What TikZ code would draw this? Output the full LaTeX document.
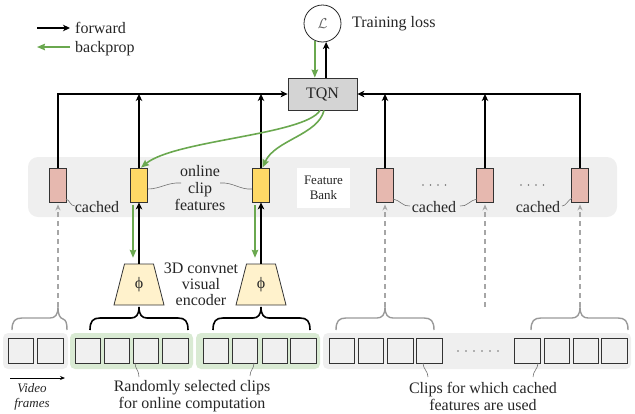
\documentclass[tikz,border=0pt]{standalone}
\usepackage{fontspec}
\setmainfont{Liberation Serif}
\usetikzlibrary{arrows.meta,calc}
\definecolor{bgreen}{HTML}{6AA84F}
\definecolor{greenbg}{HTML}{D9EAD3}
\definecolor{graybg}{HTML}{EFEFEF}
\definecolor{sqfill}{HTML}{F0F0F0}
\definecolor{cpink}{HTML}{E6B8AF}
\definecolor{oyellow}{HTML}{FFD966}
\definecolor{encfill}{HTML}{FFF2CC}
\newcommand\mybrace[3]{(#1,330) .. controls (#1,321) and (#1+3,318) .. (#1+10,318) -- (#2-8,318) .. controls (#2-3,318) and (#2,315) .. (#2,307) .. controls (#2,315) and (#2+3,318) .. (#2+8,318) -- (#3-10,318) .. controls (#3-3,318) and (#3,321) .. (#3,330)}
\begin{document}
\begin{tikzpicture}[x=1pt,y=-1pt,
  fwd/.style={draw=black, line width=1.6pt, -{Stealth[length=7pt,width=6.5pt,inset=2pt]}},
  bwd/.style={draw=bgreen, line width=1.6pt, -{Stealth[length=8pt,width=6.5pt,inset=1pt]}},
  featbox/.style={draw=black!80, line width=0.8pt, minimum width=17pt, minimum height=34pt, inner sep=0pt},
  cachedbox/.style={featbox, fill=cpink},
  onlinebox/.style={featbox, fill=oyellow},
  vframe/.style={draw=black!80, line width=0.8pt, fill=sqfill, minimum width=25.5pt, minimum height=25pt, inner sep=0pt},
  lead/.style={draw=black!55, line width=0.6pt},
  dasharrow/.style={draw=black!35, line width=1.2pt, dash pattern=on 5pt off 4pt, -{Stealth[length=6pt,width=5pt]}},
  txt/.style={font=\fontsize{16}{17}\selectfont, text=black!85, inner sep=0pt},
  enc/.style={draw=black!80, line width=0.8pt, fill=encfill},
  blackbrace/.style={draw=black, line width=1.6pt},
  graybrace/.style={draw=black!40, line width=1.4pt}
]
\useasboundingbox (0,0) rectangle (635,413);

% legend
\coordinate (lf1) at (37,28); \coordinate (lf2) at (70,28);
\draw[fwd] (lf1) -- (lf2);
\node[txt, anchor=base west] (lfwd) at (75,33) {forward};
\coordinate (lb1) at (70,47); \coordinate (lb2) at (37,47);
\draw[bwd] (lb1) -- (lb2);
\node[txt, anchor=base west] (lbwd) at (75,52) {backprop};

% loss and TQN
\node[draw=black!85, line width=0.8pt, circle, minimum size=37pt, inner sep=0pt, text=black!60, font=\fontsize{15}{16}\selectfont] (loss) at (322.5,23.5) {$\mathcal{L}$};
\node[txt, anchor=base west] (tl) at (352,27) {Training loss};
\node[txt, draw=black!80, fill=black!17, line width=0.8pt, minimum width=69pt, minimum height=32pt] (tqn) at (322.5,94) {TQN};
\draw[bwd] (loss.-114) -- (loss.-114 |- tqn.north);
\draw[fwd] (loss.-79 |- tqn.north) -- (loss.-79);

% feature bank background
\fill[graybg, rounded corners=10pt] (28,157) rectangle (617,217);
\node[fill=white, minimum width=53pt, minimum height=40pt, align=center, inner sep=0pt, text=black!85, font=\fontsize{13}{14.5}\selectfont] (fb) at (323.5,188) {Feature\\Bank};

% feature boxes
\node[cachedbox] (c1) at (58,185) {};
\node[onlinebox] (y1) at (139,185) {};
\node[onlinebox] (y2) at (261,185) {};
\node[cachedbox] (c2) at (385,185) {};
\node[cachedbox] (c3) at (485,185) {};
\node[cachedbox] (c4) at (580,185) {};

% forward lines to TQN
\draw[fwd] (c1.north) |- (tqn.west);
\draw[fwd] (y1.north) -- (y1.north |- tqn.west);
\draw[fwd] (y2.north) -- (y2.north |- tqn.west);
\draw[fwd] (c4.north) |- (tqn.east);
\draw[fwd] (c2.north) -- (c2.north |- tqn.east);
\draw[fwd] (c3.north) -- (c3.north |- tqn.east);

% backprop curves
\draw[bwd] ([xshift=-2.5pt]tqn.south) .. controls (305,135) and (175,140) .. ([xshift=2pt]y1.north);
\draw[bwd] ([xshift=1.5pt]tqn.south) .. controls (318,135) and (275,140) .. ([xshift=1.5pt]y2.north);

% online clip features label
\node[txt, align=center] (onl) at (200,188) {online\\clip\\features};
\draw[lead] ([yshift=-4pt]y1.east) .. controls (160,189) and (168,182) .. (181,183);
\draw[lead] (220,183) .. controls (233,182) and (240,190) .. ([yshift=-4pt]y2.west);

% cached labels
\node[txt] (cl1) at (97,207) {cached};
\node[txt] (cl2) at (434,207) {cached};
\node[txt] (cl3) at (538,207) {cached};
\draw[lead] (66,199) .. controls (70,200) and (70,206) .. (75,206);
\draw[lead] (393,199) .. controls (400,200) and (403,207) .. (410,206);
\draw[lead] (460,206) .. controls (467,207) and (470,200) .. (477,199);
\draw[lead] (562,206) .. controls (566,206) and (568,200) .. (572,198);

% dots in bank
\foreach \x in {423,430.5,438,445.5,521,528.5,536,543.5} \fill[black!55] (\x,185) circle (0.9pt);

% encoders
\coordinate (e1c) at (139,284.5);
\coordinate (e2c) at (261,284.5);
\draw[enc] ($(e1c)+(-14.5,-20.5)$) -- ($(e1c)+(14.5,-20.5)$) -- ($(e1c)+(25,20.5)$) -- ($(e1c)+(-25,20.5)$) -- cycle;
\draw[enc] ($(e2c)+(-14.5,-20.5)$) -- ($(e2c)+(14.5,-20.5)$) -- ($(e2c)+(25,20.5)$) -- ($(e2c)+(-25,20.5)$) -- cycle;
\node[txt, minimum width=29pt, minimum height=41pt] (e1) at (e1c) {ϕ};
\node[txt, minimum width=29pt, minimum height=41pt] (e2) at (e2c) {ϕ};
\draw[fwd] (e1.north) -- (y1.south);
\draw[fwd] (e2.north) -- (y2.south);
\draw[bwd, shorten <=3pt, shorten >=6pt] ([xshift=-6pt]y1.south) -- ([xshift=-6pt]e1.north);
\draw[bwd, shorten <=3pt, shorten >=6pt] ([xshift=-6pt]y2.south) -- ([xshift=-6pt]e2.north);
\node[txt, align=center, font=\fontsize{16}{16}\selectfont] (enclab) at (201,284) {3D convnet\\visual\\encoder};

% frame backgrounds
\fill[graybg, rounded corners=5pt] (3,333) rectangle (68,369);
\fill[greenbg, rounded corners=5pt] (70,333) rectangle (193,369);
\fill[greenbg, rounded corners=5pt] (196,333) rectangle (320,369);
\fill[graybg, rounded corners=5pt] (323,333) rectangle (631,369);

% frames
\foreach \n/\x in {1/21,2/50.5,3/88,4/117,5/146,6/175.5,7/216,8/245,9/275,10/303.5,11/342,12/371,13/400.5,14/429.5,15/527.5,16/557,17/586,18/614.5}
  \node[vframe] (f\n) at (\x,350.5) {};
\foreach \x in {458,466,474,482,490,498} \fill[black!55] (\x,351) circle (0.9pt);

% braces
\draw[blackbrace] \mybrace{90}{139}{188};
\draw[blackbrace] \mybrace{213}{261}{310};
\draw[graybrace] \mybrace{336}{385}{434};
\draw[graybrace] \mybrace{531}{580}{628};
\draw[graybrace] (12,330) .. controls (12,321) and (15,318) .. (22,318) -- (50,318) .. controls (55,318) and (58,315) .. (58,307) .. controls (58,315) and (60,318) .. (63,319) .. controls (66,320) and (67,323) .. (67,330);

% dashed arrows to cached features
\coordinate (t0) at (58,307);
\coordinate (t2) at (385,307);
\coordinate (t3) at (485,307);
\coordinate (t4) at (580,307);
\draw[dasharrow, shorten >=2pt] (t0) -- (c1.south);
\draw[dasharrow, shorten >=2pt] (t2) -- (c2.south);
\draw[dasharrow, shorten >=2pt] (t3) -- (c3.south);
\draw[dasharrow, shorten >=2pt] (t4) -- (c4.south);

% bottom labels
\node[txt, align=center] (rand) at (192,396) {Randomly selected clips\\for online computation};
\node[txt, align=center] (cach) at (483,396) {Clips for which cached\\features are used};
\draw[lead] (135,363) .. controls (135,369) and (139,370) .. (139,377);
\draw[lead] (254,363) .. controls (254,369) and (250,370) .. (250,376);
\draw[lead] (423,363) .. controls (423,369) and (428,371) .. (428,377);
\draw[lead] (538,363) .. controls (538,369) and (533,371) .. (533,377);

% video frames
\coordinate (vf1) at (10,378); \coordinate (vf2) at (65,378);
\draw[line width=0.8pt, -{Stealth[length=5pt,width=4pt]}] (vf1) -- (vf2);
\node[align=center, inner sep=0pt, text=black!85, font=\itshape\fontsize{13}{15}\selectfont] (vf) at (32,397) {Video\\frames};
\end{tikzpicture}
\end{document}
